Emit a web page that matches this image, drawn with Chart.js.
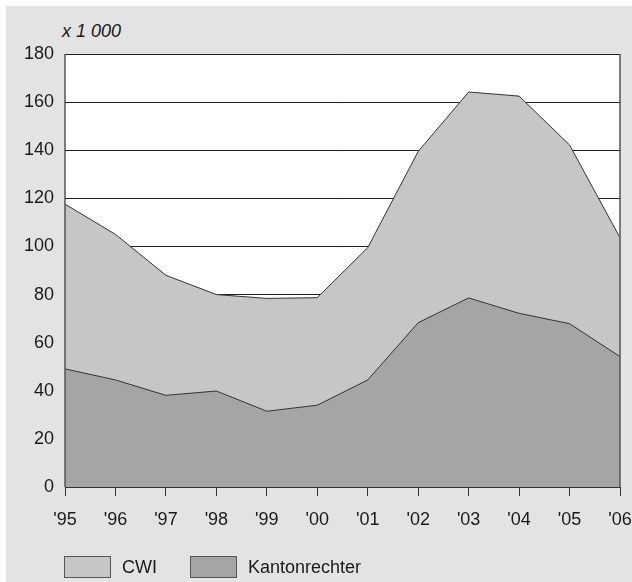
<!DOCTYPE html>
<html>
<head>
<meta charset="utf-8">
<script src="https://cdn.jsdelivr.net/npm/chart.js@4"></script>
<style>
  html, body { margin: 0; padding: 0; background: #ffffff; width: 632px; height: 582px; overflow: hidden; }
  #bg { position: absolute; left: 6px; top: 6px; width: 626px; height: 576px; background: #e3e3e3; }
  #wrap { position: absolute; left: 0; top: 0; width: 632px; height: 582px; }
  #unit { position: absolute; left: 62px; top: 21px; font: italic 18px "Liberation Sans", Arial, sans-serif; color: #1a1a1a; }
  .leg { position: absolute; top: 556px; height: 22px; font: 18px "Liberation Sans", Arial, sans-serif; color: #1a1a1a; display: flex; align-items: center; }
  .box { width: 45px; height: 20px; border: 1px solid #555; margin-right: 11px; }
</style>
</head>
<body>
<div id="bg"></div>
<div id="unit">x 1 000</div>
<div id="wrap"><canvas id="c" width="632" height="582"></canvas></div>
<div class="leg" style="left:64px"><div class="box" style="background:#c6c6c6"></div>CWI</div>
<div class="leg" style="left:190px"><div class="box" style="background:#a5a5a5"></div>Kantonrechter</div>
<script>
const categories = ["'95","'96","'97","'98","'99","'00","'01","'02","'03","'04","'05","'06"];
// Total (CWI top line), in thousands
const cwi = [117.6, 105.0, 88.0, 80.0, 78.4, 78.7, 99.5, 139.5, 164.2, 162.5, 142.2, 103.6];
// Kantonrechter values, in thousands
const kantonrechter = [49.1, 44.5, 38.1, 39.9, 31.5, 34.0, 44.5, 68.3, 78.6, 72.2, 67.9, 54.2];
const yTicks = [0, 20, 40, 60, 80, 100, 120, 140, 160, 180];

const FONT = "'Liberation Sans', Arial, sans-serif";

const plotBg = {
  id: 'plotBg',
  beforeDraw(chart) {
    const { ctx, chartArea: a } = chart;
    ctx.save();
    ctx.fillStyle = '#ffffff';
    ctx.fillRect(a.left, a.top, a.right - a.left, a.bottom - a.top);
    ctx.restore();
  },
  afterDatasetsDraw(chart) {
    const { ctx, chartArea: a } = chart;
    ctx.save();
    ctx.strokeStyle = '#555';
    ctx.lineWidth = 1.5;
    ctx.beginPath();
    ctx.moveTo(a.left, a.top); ctx.lineTo(a.left, a.bottom);
    ctx.moveTo(a.right, a.top); ctx.lineTo(a.right, a.bottom);
    ctx.stroke();
    ctx.strokeStyle = '#333';
    ctx.lineWidth = 1;
    ctx.beginPath();
    ctx.moveTo(a.left, a.bottom + 0.5); ctx.lineTo(a.right, a.bottom + 0.5);
    ctx.stroke();
    ctx.restore();
  }
};

new Chart(document.getElementById('c'), {
  type: 'line',
  data: {
    labels: categories,
    datasets: [
      { label: 'CWI', data: cwi, fill: 'origin', backgroundColor: '#c6c6c6', borderColor: '#333', borderWidth: 1, pointRadius: 0, tension: 0, order: 2 },
      { label: 'Kantonrechter', data: kantonrechter, fill: 'origin', backgroundColor: '#a5a5a5', borderColor: '#333', borderWidth: 1, pointRadius: 0, tension: 0, order: 1 }
    ]
  },
  options: {
    responsive: false,
    animation: false,
    devicePixelRatio: 1,
    layout: { padding: { left: 0, right: 0, top: 54, bottom: 0 } },
    plugins: { legend: { display: false }, tooltip: { enabled: false }, title: { display: false } },
    scales: {
      x: {
        offset: false,
        grid: { drawOnChartArea: false, drawTicks: true, tickLength: 9, color: '#333', lineWidth: 1 },
        border: { display: false },
        ticks: { color: '#1a1a1a', font: { family: FONT, size: 18 }, padding: 13, maxRotation: 0, autoSkip: false },
        afterFit(s) { s.height = 95; s.paddingLeft = 0; s.paddingRight = 12; }
      },
      y: {
        min: 0, max: 180,
        afterBuildTicks(s) { s.ticks = yTicks.map(v => ({ value: v })); },
        grid: { color: '#222', lineWidth: 1, drawTicks: false },
        border: { display: false },
        ticks: { color: '#1a1a1a', font: { family: FONT, size: 18 }, padding: 11 },
        afterFit(s) { s.width = 65; }
      }
    }
  },
  plugins: [plotBg]
});
</script>
</body>
</html>
